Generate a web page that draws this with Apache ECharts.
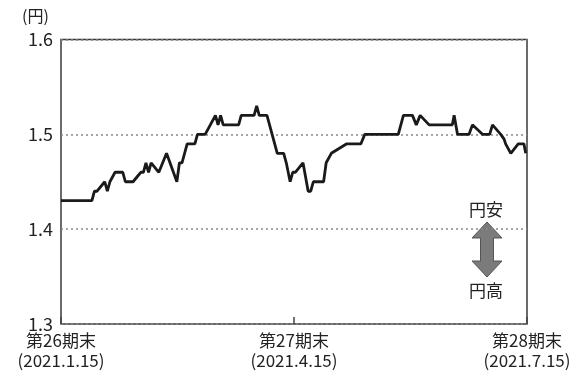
<!DOCTYPE html>
<html>
<head>
<meta charset="utf-8">
<style>
html,body{margin:0;padding:0;background:#fff;}
#c{width:583px;height:372px;}
</style>
<script src="https://cdn.jsdelivr.net/npm/echarts@6/dist/echarts.min.js"></script>
</head>
<body>
<div id="c"></div>
<script>
// Days elapsed since 2021.1.15 (vertices of the line) and rate values (円)
const days = [0, 12, 13, 14, 17, 18, 19, 21, 24, 25, 28, 29.5, 31, 32, 33, 34, 35, 38, 41, 45, 46, 47, 49, 52, 53, 56, 58, 60, 61, 62, 63, 69, 70, 75, 76, 77, 80, 84, 86.5, 87.5, 89, 90, 91, 94, 96, 97, 98, 102, 103, 105, 111, 116.5, 118, 131, 133, 136.5, 138, 139.5, 143, 152, 152.7, 154, 158.5, 159.8, 160.5, 163.7, 166.5, 167.6, 170.8, 172.1, 172.7, 174.7, 177.6, 179.8, 180.5];
const rates = [1.43, 1.43, 1.44, 1.44, 1.45, 1.44, 1.45, 1.46, 1.46, 1.45, 1.45, 1.455, 1.46, 1.46, 1.47, 1.46, 1.47, 1.46, 1.48, 1.45, 1.47, 1.47, 1.49, 1.49, 1.50, 1.50, 1.51, 1.52, 1.51, 1.52, 1.51, 1.51, 1.52, 1.52, 1.53, 1.52, 1.52, 1.48, 1.48, 1.47, 1.45, 1.46, 1.46, 1.47, 1.44, 1.44, 1.45, 1.45, 1.47, 1.48, 1.49, 1.49, 1.50, 1.50, 1.52, 1.52, 1.51, 1.52, 1.51, 1.51, 1.52, 1.50, 1.50, 1.51, 1.51, 1.50, 1.50, 1.51, 1.50, 1.495, 1.49, 1.48, 1.49, 1.49, 1.48];
const tickDays = [0, 90.5, 181];
const tickLabels = ['第26期末\n(2021.1.15)', '第27期末\n(2021.4.15)', '第28期末\n(2021.7.15)'];
const yTicks = [1.3, 1.4, 1.5, 1.6];

const FONT = '"Noto Sans CJK JP", "Noto Sans", sans-serif';
const chart = echarts.init(document.getElementById('c'));
const points = days.map((d, i) => [d, rates[i]]);

function labelFor(v) {
  for (let i = 0; i < tickDays.length; i++) {
    if (Math.abs(v - tickDays[i]) < 0.01) return tickLabels[i];
  }
  return '';
}

chart.setOption({
  animation: false,
  grid: {left: 61, top: 39.5, width: 466, height: 284.5, show: true, borderColor: '#3a3a3a', borderWidth: 1.5, backgroundColor: 'transparent'},
  xAxis: {
    type: 'value', min: 0, max: 181, interval: 90.5,
    axisLine: {show: false},
    axisTick: {show: true, inside: true, length: 7, lineStyle: {color: '#444', width: 1.5}},
    splitLine: {show: false},
    axisLabel: {
      showMinLabel: true, showMaxLabel: true,
      formatter: labelFor,
      fontSize: 17, lineHeight: 20, color: '#222', fontFamily: FONT, margin: 7
    }
  },
  yAxis: {
    type: 'value', min: yTicks[0], max: yTicks[yTicks.length - 1], interval: 0.1,
    axisLine: {show: false},
    axisTick: {show: false},
    splitLine: {show: true, lineStyle: {color: '#888', type: [2, 3], width: 1.5}},
    axisLabel: {
      formatter: v => v.toFixed(1),
      fontSize: 18, color: '#222', fontFamily: FONT, margin: 8
    }
  },
  graphic: [
    {type: 'text', left: 22, top: 8, style: {text: '(円)', fontSize: 16, fill: '#222', fontFamily: FONT}},
    {type: 'text', x: 486, y: 210, style: {text: '円安', fontSize: 17, fill: '#222', fontFamily: FONT, align: 'center', verticalAlign: 'middle'}},
    {type: 'text', x: 486, y: 291, style: {text: '円高', fontSize: 17, fill: '#222', fontFamily: FONT, align: 'center', verticalAlign: 'middle'}},
    {type: 'polygon', shape: {points: [
      [487, 222], [502, 238], [493.5, 238], [493.5, 261], [502, 261], [487, 277],
      [472, 261], [480.5, 261], [480.5, 238], [472, 238]
    ]}, style: {fill: '#7b7b7b', stroke: '#555', lineWidth: 1}}
  ],
  series: [{
    type: 'line', data: points, showSymbol: false, symbol: 'none',
    lineStyle: {color: '#1a1a1a', width: 2.8}, z: 5
  }]
});
</script>
</body>
</html>
